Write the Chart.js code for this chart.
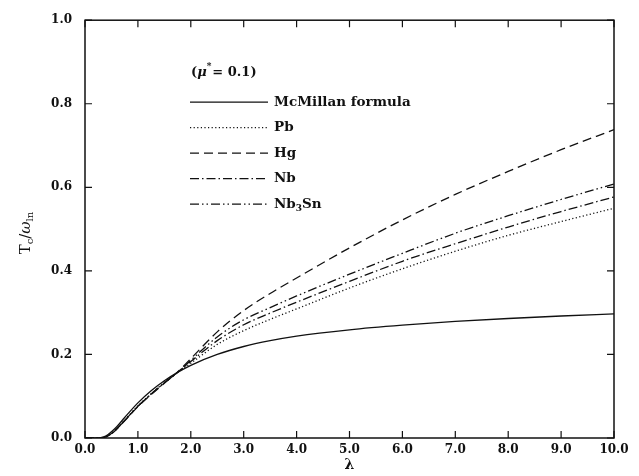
<!DOCTYPE html>
<html>
<head>
<meta charset="utf-8">
<script src="https://cdn.jsdelivr.net/npm/chart.js@4.4.1/dist/chart.umd.min.js"></script>
<style>
  html, body { margin:0; padding:0; background:#fff; }
  #wrap { width:639px; height:476px; position:relative; }
</style>
</head>
<body>
<div id="wrap"><canvas id="tcChart" width="639" height="476"></canvas></div>
<script>
// values (Tc/omega_ln vs lambda, mu* = 0.1)
const lambdaVals = [0, 0.25, 0.3, 0.4, 0.5, 0.6, 0.75, 1.0, 1.25, 1.5, 1.75, 2.0, 2.5, 3.0, 3.5, 4.0, 5.0, 6.0, 7.0, 8.0, 9.0, 10.0];
const mcmillan = [0, 0, 0.001, 0.005, 0.015, 0.027, 0.049, 0.084, 0.113, 0.137, 0.157, 0.174, 0.200, 0.219, 0.233, 0.244, 0.259, 0.270, 0.279, 0.286, 0.292, 0.297];
const pb       = [0, 0, 0, 0.003, 0.011, 0.022, 0.043, 0.077, 0.106, 0.133, 0.157, 0.179, 0.224, 0.257, 0.284, 0.309, 0.359, 0.405, 0.447, 0.485, 0.518, 0.550];
const hg       = [0, 0, 0, 0.003, 0.010, 0.021, 0.041, 0.075, 0.104, 0.131, 0.158, 0.190, 0.254, 0.305, 0.346, 0.383, 0.455, 0.522, 0.583, 0.638, 0.690, 0.738];
const nb       = [0, 0, 0, 0.003, 0.011, 0.022, 0.042, 0.076, 0.105, 0.132, 0.157, 0.183, 0.233, 0.271, 0.299, 0.325, 0.375, 0.423, 0.465, 0.505, 0.542, 0.577];
const nb3sn    = [0, 0, 0, 0.003, 0.011, 0.022, 0.042, 0.076, 0.105, 0.132, 0.157, 0.186, 0.242, 0.283, 0.312, 0.340, 0.392, 0.442, 0.490, 0.532, 0.571, 0.608];

const xTicks = [0, 1, 2, 3, 4, 5, 6, 7, 8, 9, 10];
const yTicks = [0, 0.2, 0.4, 0.6, 0.8, 1.0];

const SERIF = '"DejaVu Serif", "Liberation Serif", serif';
const toPts = ys => lambdaVals.map((x, i) => ({ x, y: ys[i] }));

function series(label, ys, dash){
  return { label, data: toPts(ys), borderColor:'#111', borderWidth:1.3, borderDash:dash,
           pointRadius:0, fill:false, cubicInterpolationMode:'monotone' };
}

// box + inward ticks on all four sides
const frame = {
  id:'frame',
  afterDraw(chart){
    const {ctx, chartArea:a, scales:{x, y}} = chart;
    ctx.save();
    ctx.strokeStyle = '#111'; ctx.lineWidth = 1.5;
    ctx.strokeRect(a.left, a.top, a.right - a.left, a.bottom - a.top);
    ctx.lineWidth = 1.2;
    ctx.beginPath();
    xTicks.forEach(v => { const px = x.getPixelForValue(v);
      ctx.moveTo(px, a.bottom); ctx.lineTo(px, a.bottom - 7);
      ctx.moveTo(px, a.top); ctx.lineTo(px, a.top + 7); });
    yTicks.forEach(v => { const py = y.getPixelForValue(v);
      ctx.moveTo(a.left, py); ctx.lineTo(a.left + 7, py);
      ctx.moveTo(a.right, py); ctx.lineTo(a.right - 7, py); });
    ctx.stroke();
    ctx.restore();
  }
};

// in-plot legend with mu* note
const innerLegend = {
  id:'innerLegend',
  afterDraw(chart){
    const {ctx, chartArea:a} = chart;
    ctx.save();
    ctx.fillStyle = '#111'; ctx.textBaseline = 'middle';
    let tx = a.left + 106, ty = a.top + 52;
    const put = (txt, font, dy) => { ctx.font = font; ctx.fillText(txt, tx, ty + (dy||0)); tx += ctx.measureText(txt).width; };
    put('(', 'bold 13px ' + SERIF);
    put('μ', 'italic bold 13px ' + SERIF);
    put('*', 'bold 9px ' + SERIF, -6);
    tx += 1;
    put('= 0.1)', 'bold 13px ' + SERIF);

    chart.data.datasets.forEach((ds, i) => {
      const ly = a.top + 82 + i * 25.5;
      ctx.strokeStyle = ds.borderColor; ctx.lineWidth = ds.borderWidth;
      ctx.setLineDash(ds.borderDash || []);
      ctx.beginPath(); ctx.moveTo(a.left + 105, ly); ctx.lineTo(a.left + 183, ly); ctx.stroke();
      ctx.setLineDash([]);
      tx = a.left + 189; ty = ly;
      if (ds.label === 'Nb3Sn') {
        put('Nb', 'bold 13.5px ' + SERIF);
        put('3', 'bold 9px ' + SERIF, 4);
        put('Sn', 'bold 13.5px ' + SERIF);
      } else {
        put(ds.label, 'bold 13.5px ' + SERIF);
      }
    });
    ctx.restore();
  }
};

// axis titles (y one needs subscripts)
const axisTitles = {
  id:'axisTitles',
  afterDraw(chart){
    const {ctx, chartArea:a} = chart;
    ctx.save();
    ctx.fillStyle = '#111'; ctx.textBaseline = 'middle'; ctx.textAlign = 'center';
    ctx.font = 'bold 14px ' + SERIF;
    ctx.fillText('λ', (a.left + a.right) / 2, 465);
    ctx.textAlign = 'left';
    ctx.translate(26, (a.top + a.bottom) / 2 + 4);
    ctx.rotate(-Math.PI / 2);
    const parts = [['T', '15px ', 0], ['c', '10px ', 4], ['/', '15px ', 0], ['ω', 'italic 15px ', 0], ['ln', '10px ', 4]];
    let w = 0;
    parts.forEach(p => { ctx.font = p[1] + SERIF; w += ctx.measureText(p[0]).width; });
    let tx = -w / 2;
    parts.forEach(p => { ctx.font = p[1] + SERIF; ctx.fillText(p[0], tx, p[2]); tx += ctx.measureText(p[0]).width; });
    ctx.restore();
  }
};

new Chart(document.getElementById('tcChart').getContext('2d'), {
  type:'line',
  data:{ datasets:[
    series('McMillan formula', mcmillan, []),
    series('Pb', pb, [1.2, 2.4]),
    series('Hg', hg, [9, 5]),
    series('Nb', nb, [9, 3, 1.5, 3]),
    series('Nb3Sn', nb3sn, [9, 3, 1.5, 3, 1.5, 3])
  ]},
  options:{
    responsive:false, animation:false, events:[],
    layout:{ padding:{ top:11, right:25, left:0, bottom:0 } },
    plugins:{ legend:{display:false}, tooltip:{enabled:false} },
    scales:{
      x:{ type:'linear', min:0, max:10,
          grid:{display:false, drawTicks:false}, border:{display:false},
          afterBuildTicks: s => { s.ticks = xTicks.map(v => ({value:v})); },
          afterFit: s => { s.height = 38; },
          ticks:{ color:'#111', padding:5, maxRotation:0, font:{family:SERIF, size:12, weight:'bold'},
                  callback: v => v.toFixed(1) } },
      y:{ type:'linear', min:0, max:1,
          grid:{display:false, drawTicks:false}, border:{display:false},
          afterBuildTicks: s => { s.ticks = yTicks.map(v => ({value:v})); },
          afterFit: s => { s.width = 85; },
          ticks:{ color:'#111', padding:13, font:{family:SERIF, size:12, weight:'bold'},
                  callback: v => v.toFixed(1) } }
    }
  },
  plugins:[frame, innerLegend, axisTitles]
});
</script>
</body>
</html>
